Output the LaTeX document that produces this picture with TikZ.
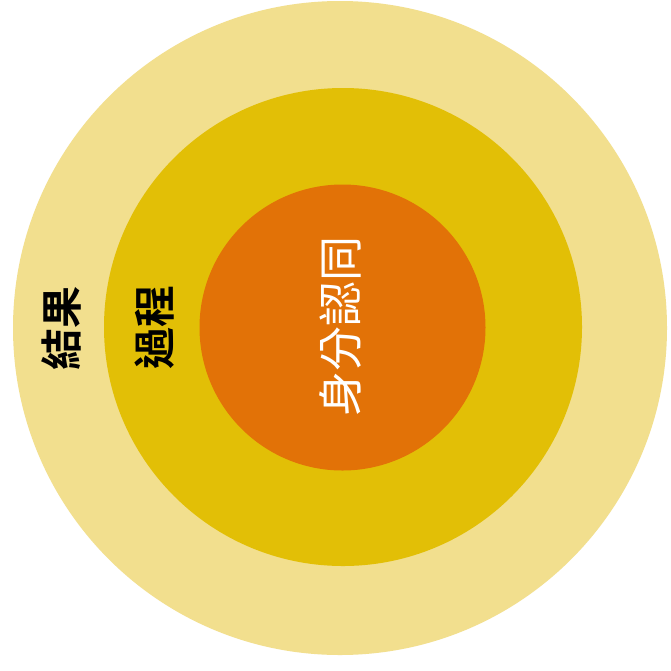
\documentclass[tikz,border=0pt]{standalone}
\usepackage{fontspec}
\newfontfamily\cjk{Noto Sans CJK TC}
\newfontfamily\cjkb{Noto Sans CJK TC Bold}
\definecolor{outerc}{HTML}{F2DF8E}
\definecolor{midc}{HTML}{E2BF06}
\definecolor{innerc}{HTML}{E27207}
\begin{document}
\begin{tikzpicture}[x=1pt,y=-1pt,
  ring/.style={circle,inner sep=0pt,draw=none},
  lbl/.style={rotate=90,inner sep=0pt}]
\useasboundingbox (0,0) rectangle (671,670);
\fill[white] (0,0) rectangle (671,670);
\node[ring,fill=outerc,minimum size=654pt] (outer) at (340,328) {};
\node[ring,fill=midc,minimum size=478pt] (mid) at (343,327) {};
\node[ring,fill=innerc,minimum size=286pt] (inner) at (342.5,327.5) {};
\node[lbl,text=black] (res) at (61,328) {\cjkb\fontsize{42pt}{42pt}\selectfont 結果};
\node[lbl,text=black] (proc) at (155,327) {\cjkb\fontsize{42pt}{42pt}\selectfont 過程};
\node[lbl,text=white] (id) at (340,326) {\cjk\fontsize{45pt}{45pt}\selectfont 身分認同};
\end{tikzpicture}
\end{document}
